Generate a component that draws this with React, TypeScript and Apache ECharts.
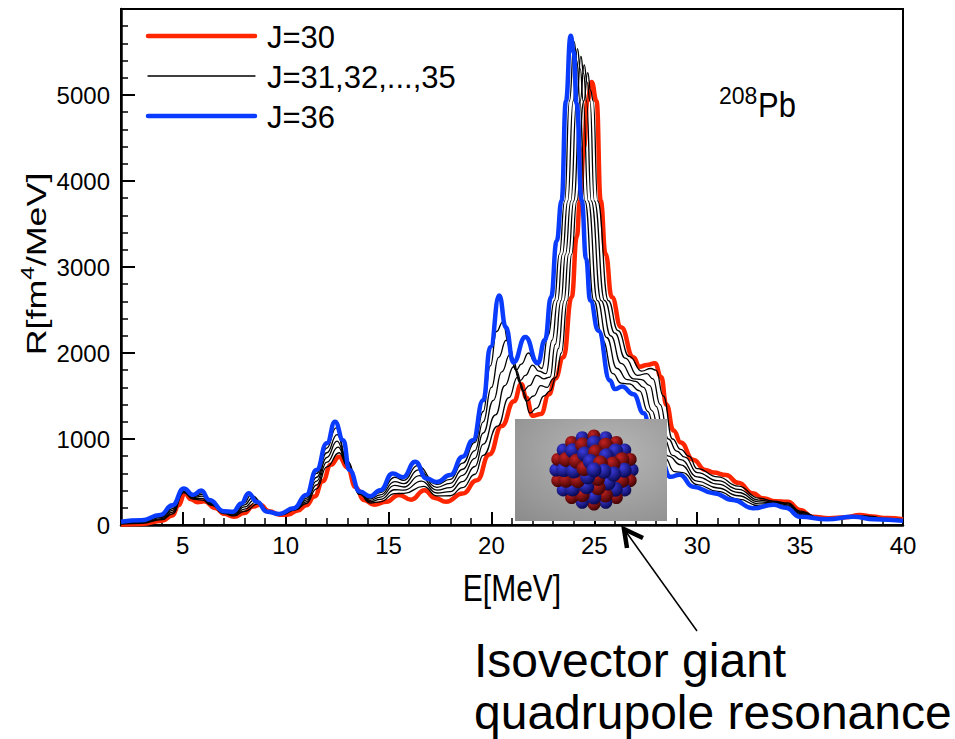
import React, { useEffect, useRef } from "react";
import * as echarts from "echarts";

const FONT = "'Liberation Sans', Arial, Helvetica, sans-serif";
const RED = "#ff2600";
const BLUE = "#0a3cff";

// strength functions, [E (MeV), R (fm^4/MeV)]
const j30 = [
  [2, 5], [3, 12], [4, 50], [4.5, 110], [4.8, 230], [5.1, 370], [5.4, 300], [5.7, 265], [6.05, 275],
  [6.6, 195], [7.0, 130], [7.5, 95], [8.0, 140], [8.4, 215], [8.75, 235], [9.2, 160], [9.7, 120],
  [10.1, 118], [10.6, 170], [11.0, 230], [11.4, 330], [11.8, 510], [12.2, 700], [12.6, 795], [13.0, 670],
  [13.4, 440], [13.8, 290], [14.3, 235], [14.9, 270], [15.5, 350], [16.1, 295], [16.75, 405], [17.25, 315],
  [17.8, 270], [18.6, 365], [19.3, 520], [19.9, 820], [20.5, 1150], [21.1, 1440], [21.45, 1640], [21.7, 1480],
  [22.0, 1270], [22.4, 1290], [22.8, 1520], [23.1, 1700], [23.5, 1950], [23.9, 2650], [24.15, 3350],
  [24.3, 3770], [24.5, 4400], [24.66, 4930], [24.87, 5150], [25.11, 4930], [25.31, 3770], [25.55, 3150],
  [25.85, 2650], [26.3, 2300], [26.9, 1950], [27.2, 1840], [27.55, 1860], [27.95, 1880], [28.25, 1720],
  [28.5, 1400], [28.85, 1100], [29.2, 960], [29.8, 760], [30.4, 640], [30.8, 610], [31.4, 580], [32.0, 490],
  [32.7, 370], [33.2, 310], [33.8, 275], [34.4, 270], [35.0, 175], [35.6, 96], [36.4, 78], [37.2, 90],
  [37.9, 116], [38.5, 98], [39.2, 80], [40, 66]
];

const j31 = [
  [2, 10], [3, 20], [4, 62], [4.5, 130], [5.05, 378], [5.5, 300], [5.95, 290], [6.4, 228], [7.0, 132],
  [7.5, 105], [8.0, 160], [8.7, 250], [9.2, 158], [9.8, 120], [10.5, 177], [11.0, 250], [11.5, 420],
  [12.0, 675], [12.6, 840], [13.0, 690], [13.6, 355], [14.1, 255], [14.6, 270], [15.3, 365], [15.75, 367],
  [16.7, 450], [17.35, 338], [18.0, 340], [18.6, 435], [19.2, 590], [19.6, 810], [20.3, 1150], [20.85, 1480],
  [21.27, 1720], [21.55, 1550], [21.87, 1300], [22.2, 1360], [22.55, 1500], [22.85, 1560], [23.15, 1720],
  [23.4, 2000], [23.69, 2610], [23.9, 3150], [24.15, 3770], [24.49, 4930], [24.68, 5260], [24.82, 5050],
  [24.95, 4930], [25.16, 3770], [25.68, 2610], [26.15, 2260], [26.7, 1960], [27.3, 1790], [27.75, 1820],
  [28.0, 1800], [28.35, 1500], [28.8, 1000], [29.2, 880], [29.6, 800], [30, 655], [31, 560], [32, 452],
  [33, 312], [33.7, 277], [34.4, 257], [35, 162], [36, 78], [37, 88], [37.9, 110], [38.5, 100], [39, 78],
  [40, 63]
];

const j32 = [
  [2, 15], [3, 27], [4, 75], [4.5, 150], [5.05, 388], [5.5, 310], [5.95, 310], [6.4, 236], [7.0, 138],
  [7.5, 117], [8.0, 185], [8.6, 270], [9.2, 156], [9.8, 122], [10.5, 183], [11.0, 270], [11.5, 465],
  [12.0, 730], [12.55, 905], [13.0, 700], [13.6, 362], [14.1, 270], [14.6, 297], [15.3, 410], [15.75, 405],
  [16.6, 510], [17.35, 372], [18.0, 388], [18.6, 505], [19.2, 680], [19.6, 940], [20.2, 1280], [20.65, 1620],
  [21.08, 1840], [21.4, 1650], [21.7, 1440], [22.05, 1500], [22.4, 1620], [22.7, 1600], [23.0, 1700],
  [23.25, 2050], [23.53, 2610], [23.75, 3150], [24.0, 3770], [24.31, 4930], [24.51, 5350], [24.65, 5150],
  [24.79, 4930], [25.0, 3770], [25.5, 2610], [26.0, 2230], [26.5, 1940], [27.1, 1740], [27.55, 1760],
  [27.85, 1700], [28.2, 1400], [28.6, 1000], [29.0, 860], [29.4, 790], [30, 610], [31, 515], [32, 415],
  [33, 290], [33.7, 268], [34.4, 246], [35, 148], [36, 77], [37, 88], [37.9, 104], [38.4, 98], [39, 75],
  [40, 60]
];

const j33 = [
  [2, 20], [3, 35], [4, 88], [4.5, 170], [5.05, 398], [5.5, 320], [5.95, 335], [6.4, 245], [7.0, 144],
  [7.5, 128], [8.0, 210], [8.5, 295], [9.2, 155], [9.8, 125], [10.5, 190], [11.0, 290], [11.5, 510],
  [12.0, 785], [12.5, 975], [13.0, 712], [13.6, 368], [14.1, 287], [14.6, 325], [15.3, 460], [15.75, 442],
  [16.5, 575], [17.35, 405], [18.0, 435], [18.6, 578], [19.2, 775], [19.6, 1070], [20.1, 1450], [20.5, 1780],
  [20.9, 1980], [21.2, 1800], [21.55, 1560], [21.85, 1620], [22.2, 1740], [22.55, 1700], [22.85, 1720],
  [23.1, 2100], [23.38, 2610], [23.6, 3150], [23.86, 3770], [24.14, 4930], [24.35, 5450], [24.48, 5250],
  [24.62, 4930], [24.85, 3770], [25.33, 2610], [25.8, 2200], [26.3, 1880], [26.9, 1700], [27.3, 1690],
  [27.7, 1620], [28.0, 1380], [28.4, 1000], [28.8, 810], [29.2, 760], [30, 560], [31, 475], [32, 378],
  [33, 268], [33.7, 260], [34.4, 235], [35, 135], [36, 75], [37, 87], [37.8, 100], [38.3, 92], [39, 71],
  [40, 57]
];

const j34 = [
  [2, 27], [3, 42], [4, 100], [4.5, 190], [5.05, 408], [5.5, 330], [5.95, 355], [6.4, 253], [7.0, 150],
  [7.5, 140], [8.0, 235], [8.4, 320], [9.2, 154], [9.8, 128], [10.5, 197], [11.0, 310], [11.5, 555],
  [12.0, 840], [12.5, 1050], [13.0, 725], [13.6, 375], [14.1, 303], [14.6, 350], [15.3, 505], [15.75, 480],
  [16.45, 640], [17.35, 438], [18.0, 485], [18.6, 648], [19.2, 865], [19.6, 1200], [20.0, 1600], [20.35, 1950],
  [20.72, 2150], [21.0, 1950], [21.4, 1680], [21.65, 1740], [22.0, 1860], [22.3, 1790], [22.65, 1760],
  [22.95, 2150], [23.22, 2610], [23.45, 3150], [23.71, 3770], [23.97, 4930], [24.18, 5540], [24.32, 5300],
  [24.46, 4930], [24.7, 3770], [25.15, 2610], [25.6, 2180], [26.1, 1820], [26.6, 1690], [27.0, 1670],
  [27.4, 1600], [27.8, 1330], [28.2, 1000], [28.6, 800], [29.2, 700], [30, 510], [31, 430], [32, 340],
  [33, 245], [33.7, 252], [34.4, 222], [35, 122], [36, 74], [37, 86], [37.6, 98], [38.3, 86], [39, 67],
  [40, 54]
];

const j35 = [
  [2, 33], [3, 49], [4, 112], [4.5, 210], [5.05, 417], [5.5, 340], [5.95, 378], [6.4, 262], [7.0, 156],
  [7.5, 150], [8.0, 262], [8.3, 345], [9.2, 153], [9.8, 130], [10.5, 204], [11.0, 330], [11.5, 600],
  [12.0, 895], [12.45, 1130], [13.0, 740], [13.6, 382], [14.1, 320], [14.6, 378], [15.3, 555], [15.75, 518],
  [16.4, 690], [17.35, 472], [18.0, 530], [18.6, 720], [19.2, 960], [19.6, 1320], [19.95, 1850], [20.25, 2250],
  [20.55, 2360], [20.85, 2100], [21.2, 1800], [21.45, 1870], [21.8, 2000], [22.1, 1900], [22.45, 1820],
  [22.75, 2200], [23.06, 2610], [23.3, 3150], [23.56, 3770], [23.79, 4930], [24.02, 5620], [24.15, 5400],
  [24.3, 4930], [24.54, 3770], [24.98, 2610], [25.4, 2150], [25.9, 1760], [26.3, 1650], [26.7, 1640],
  [27.2, 1560], [27.6, 1320], [28.0, 1000], [28.4, 790], [28.9, 620], [29.3, 610], [30, 470], [31, 390],
  [32, 300], [33, 222], [33.7, 243], [34.4, 212], [35, 110], [36, 72], [37, 86], [37.6, 97], [38.3, 80],
  [39, 63], [40, 51]
];

const j36 = [
  [2, 38], [3, 55], [3.9, 116], [4.5, 230], [5.05, 425], [5.5, 350], [5.9, 400], [6.3, 290], [7.0, 160],
  [7.45, 155], [7.85, 250], [8.2, 370], [8.6, 270], [9.1, 155], [9.7, 128], [10.4, 195], [11.0, 350],
  [11.5, 640], [12.0, 950], [12.4, 1200], [12.8, 985], [13.1, 640], [13.6, 390], [14.1, 335], [14.6, 405],
  [15.2, 600], [15.7, 555], [16.3, 735], [16.85, 540], [17.35, 500], [18.0, 580], [18.6, 795], [19.1, 985],
  [19.6, 1450], [19.95, 2070], [20.38, 2670], [20.7, 2300], [21.07, 1890], [21.65, 2185], [22.25, 1880],
  [22.6, 2150], [22.9, 2650], [23.17, 3300], [23.41, 3770], [23.62, 4930], [23.85, 5690], [24.0, 5500],
  [24.14, 4900], [24.39, 3770], [24.6, 3100], [24.8, 2610], [25.2, 2260], [25.76, 1680], [26.0, 1580],
  [26.35, 1610], [26.9, 1520], [27.4, 1300], [27.8, 1000], [28.2, 790], [28.7, 560], [29.15, 585],
  [29.8, 445], [30.8, 370], [31.75, 290], [32.7, 195], [33.7, 235], [34.3, 200], [35.0, 96], [36.3, 66],
  [37.6, 96], [38.6, 66], [40, 48]
];

const xMajorTicks = [5, 10, 15, 20, 25, 30, 35, 40];
const xMinorTicks = [
  2, 3, 4, 6, 7, 8, 9, 11, 12, 13, 14, 16, 17, 18, 19, 21, 22, 23, 24, 26, 27, 28, 29,
  31, 32, 33, 34, 36, 37, 38, 39
];
const legendLabels = ["J=30", "J=31,32,...,35", "J=36"];

const curves = [
  { name: "J=30", data: j30, color: RED, width: 4.5, z: 2 },
  { name: "J=31", data: j31, color: "#000", width: 1.3, z: 3 },
  { name: "J=32", data: j32, color: "#000", width: 1.3, z: 3 },
  { name: "J=33", data: j33, color: "#000", width: 1.3, z: 3 },
  { name: "J=34", data: j34, color: "#000", width: 1.3, z: 3 },
  { name: "J=35", data: j35, color: "#000", width: 1.3, z: 3 },
  { name: "J=36", data: j36, color: BLUE, width: 4.5, z: 4 }
];

// little nucleus picture in the inset
const nucleus = () => {
  const out: any[] = [];
  const cx = 594;
  const cy = 470;
  const rings = [
    { r: 34, n: 20 },
    { r: 27, n: 16 },
    { r: 18, n: 11 },
    { r: 9, n: 6 },
    { r: 0, n: 1 }
  ];
  rings.forEach((ring, k) => {
    for (let j = 0; j < ring.n; j++) {
      const a = (j / ring.n) * Math.PI * 2 + k * 0.4;
      const blue = (j + k) % 2 === 0;
      const light = blue ? "#3c3ce0" : "#c42222";
      const dark = blue ? "#06064a" : "#3a0202";
      out.push({
        type: "circle",
        z: 20 + k,
        shape: { cx: cx + Math.cos(a) * ring.r * 1.12, cy: cy + Math.sin(a) * ring.r, r: k === 0 ? 6.5 : 7.5 },
        style: {
          fill: new echarts.graphic.RadialGradient(0.35, 0.3, 0.75, [
            { offset: 0, color: light },
            { offset: 1, color: dark }
          ])
        }
      });
    }
  });
  return out;
};

const App = () => {
  const ref = useRef<HTMLDivElement>(null);

  useEffect(() => {
    const chart = echarts.init(ref.current, null, { renderer: "svg" });

    const legendColors = [RED, "#000", BLUE];
    const legendWidths = [4.5, 1.3, 4.5];
    const legend: any[] = [];
    legendLabels.forEach((label, i) => {
      const y = 36 + i * 40;
      legend.push({
        type: "line",
        z: 30,
        shape: { x1: 148, y1: y, x2: 255, y2: y },
        style: { stroke: legendColors[i], lineWidth: legendWidths[i], lineCap: "round" }
      });
      legend.push({
        type: "text",
        z: 30,
        x: 267,
        y: y + 1,
        style: { text: label, fontSize: 31, fontFamily: FONT, fill: "#000", verticalAlign: "middle" }
      });
    });

    const option = {
      animation: false,
      backgroundColor: "#fff",
      grid: {
        left: 121,
        right: 52,
        top: 9,
        bottom: 214,
        show: true,
        borderColor: "#000",
        borderWidth: 2
      },
      xAxis: [
        {
          type: "value",
          min: 2,
          max: 40,
          axisLine: { show: true, onZero: false, lineStyle: { color: "#000", width: 2.5 } },
          axisTick: { show: true, inside: true, length: 13, customValues: xMajorTicks, lineStyle: { color: "#000", width: 2 } },
          axisLabel: { customValues: xMajorTicks, fontSize: 24, fontFamily: FONT, color: "#000", margin: 8 },
          splitLine: { show: false }
        },
        {
          type: "value",
          min: 2,
          max: 40,
          position: "bottom",
          axisLine: { show: false },
          axisTick: { show: true, inside: true, length: 7, customValues: xMinorTicks, lineStyle: { color: "#000", width: 1.5 } },
          axisLabel: { show: false },
          splitLine: { show: false }
        }
      ],
      yAxis: {
        type: "value",
        min: 0,
        max: 6000,
        interval: 1000,
        axisLine: { show: true, onZero: false, lineStyle: { color: "#000", width: 2.5 } },
        axisTick: { show: true, inside: true, length: 14, lineStyle: { color: "#000", width: 2 } },
        minorTick: { show: true, splitNumber: 5, length: 7, lineStyle: { color: "#000", width: 1.5 } },
        axisLabel: {
          fontSize: 24,
          fontFamily: FONT,
          color: "#000",
          margin: 11,
          formatter: (v: number) => (v >= 6000 ? "" : String(v))
        },
        splitLine: { show: false }
      },
      series: curves.map((c) => ({
        type: "line",
        name: c.name,
        data: c.data,
        xAxisIndex: 0,
        showSymbol: false,
        smooth: 0.5,
        smoothMonotone: "x",
        silent: true,
        z: c.z,
        lineStyle: { color: c.color, width: c.width }
      })),
      graphic: [
        ...legend,
        // axis titles (the original lettering is a little stretched)
        {
          type: "text",
          z: 30,
          x: 512,
          y: 588,
          scaleY: 1.22,
          style: { text: "E[MeV]", fontSize: 30, fontFamily: FONT, fill: "#000", align: "center", verticalAlign: "middle" }
        },
        {
          type: "text",
          z: 30,
          x: 36,
          y: 264,
          rotation: Math.PI / 2,
          scaleX: 1.28,
          style: {
            text: "{a|R[fm}{s|4}{a|/MeV]}",
            align: "center",
            verticalAlign: "middle",
            rich: {
              a: { fontSize: 28, fontFamily: FONT, fill: "#000" },
              s: { fontSize: 19, fontFamily: FONT, fill: "#000", padding: [0, 0, 18, 0] }
            }
          }
        },
        {
          type: "text",
          z: 30,
          x: 719,
          y: 96,
          style: { text: "208", fontSize: 23, fontFamily: FONT, fill: "#000", verticalAlign: "middle" }
        },
        {
          type: "text",
          z: 30,
          x: 758,
          y: 105,
          scaleY: 1.12,
          style: { text: "Pb", fontSize: 31, fontFamily: FONT, fill: "#000", verticalAlign: "middle" }
        },
        {
          type: "rect",
          z: 15,
          shape: { x: 515, y: 419, width: 152, height: 102 },
          style: {
            fill: new echarts.graphic.RadialGradient(0.6, 0.35, 0.9, [
              { offset: 0, color: "#b8b8b8" },
              { offset: 1, color: "#8a8a8a" }
            ])
          }
        },
        ...nucleus(),
        {
          type: "line",
          z: 30,
          shape: { x1: 624, y1: 529, x2: 697, y2: 631 },
          style: { stroke: "#000", lineWidth: 1.5 }
        },
        {
          type: "polyline",
          z: 30,
          shape: { points: [[643, 538], [624, 529], [627, 548]] },
          style: { stroke: "#000", lineWidth: 4.5, fill: null, lineJoin: "miter" }
        },
        {
          type: "text",
          z: 30,
          x: 474,
          y: 660,
          style: { text: "Isovector giant", fontSize: 48, fontFamily: FONT, fill: "#000", verticalAlign: "middle" }
        },
        {
          type: "text",
          z: 30,
          x: 474,
          y: 712,
          style: { text: "quadrupole resonance", fontSize: 48, fontFamily: FONT, fill: "#000", verticalAlign: "middle" }
        }
      ]
    };

    chart.setOption(option as any);
    return () => {
      chart.dispose();
    };
  }, []);

  return <div ref={ref} style={{ position: "absolute", left: 0, top: 0, width: 955, height: 739 }} />;
};

export default App;
